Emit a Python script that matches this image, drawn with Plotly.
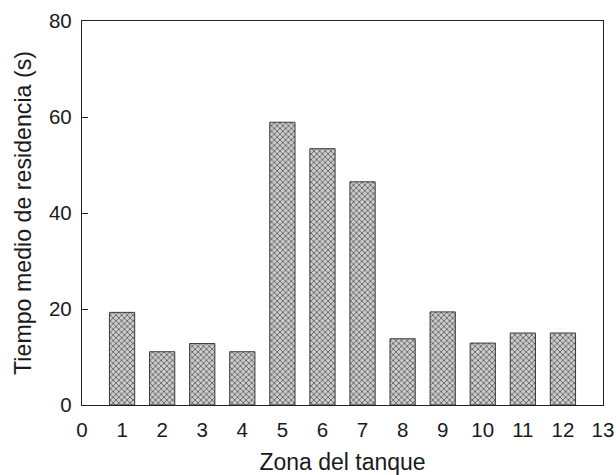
import plotly.graph_objects as go

# Residence time per tank zone
zonas = [1, 2, 3, 4, 5, 6, 7, 8, 9, 10, 11, 12]
tiempo_medio = [19.3, 11.1, 12.8, 11.1, 58.9, 53.4, 46.5, 13.8, 19.4, 12.9, 15.0, 15.0]

x_ticks = list(range(0, 14))
y_ticks = [0, 20, 40, 60, 80]

FONT = "Liberation Sans, Arial, sans-serif"

fig = go.Figure(
    go.Bar(
        x=zonas,
        y=tiempo_medio,
        width=0.63,
        marker=dict(
            color="#b0b0b0",
            line=dict(color="#3a3a3a", width=1),
            pattern=dict(shape="x", fgcolor="#626262", bgcolor="#cccccc",
                         size=4, solidity=0.4, fillmode="replace"),
        ),
        showlegend=False,
    )
)

axis_common = dict(
    showline=True, linecolor="#222", linewidth=1.3, mirror=True,
    showgrid=False, zeroline=False, automargin=False,
    tickfont=dict(family=FONT, size=20.5, color="#1a1a1a"),
)

fig.update_layout(
    width=616, height=475,
    margin=dict(l=82, r=13, t=21, b=70),
    paper_bgcolor="white", plot_bgcolor="white",
    font=dict(family=FONT, color="#1a1a1a"),
    xaxis=dict(range=[0, 13], tickvals=x_ticks, ticktext=[str(v) for v in x_ticks],
               ticks="", ticklabelstandoff=6,
               title=dict(text="Zona del tanque", font=dict(size=23), standoff=18),
               **axis_common),
    yaxis=dict(range=[0, 80], tickvals=y_ticks, ticklabelstandoff=5,
               ticks="inside", ticklen=6, tickcolor="#222", tickwidth=1.2,
               title=dict(text="Tiempo medio de residencia (s)", font=dict(size=23.2), standoff=10),
               **axis_common),
)

fig.write_html("out.html")
